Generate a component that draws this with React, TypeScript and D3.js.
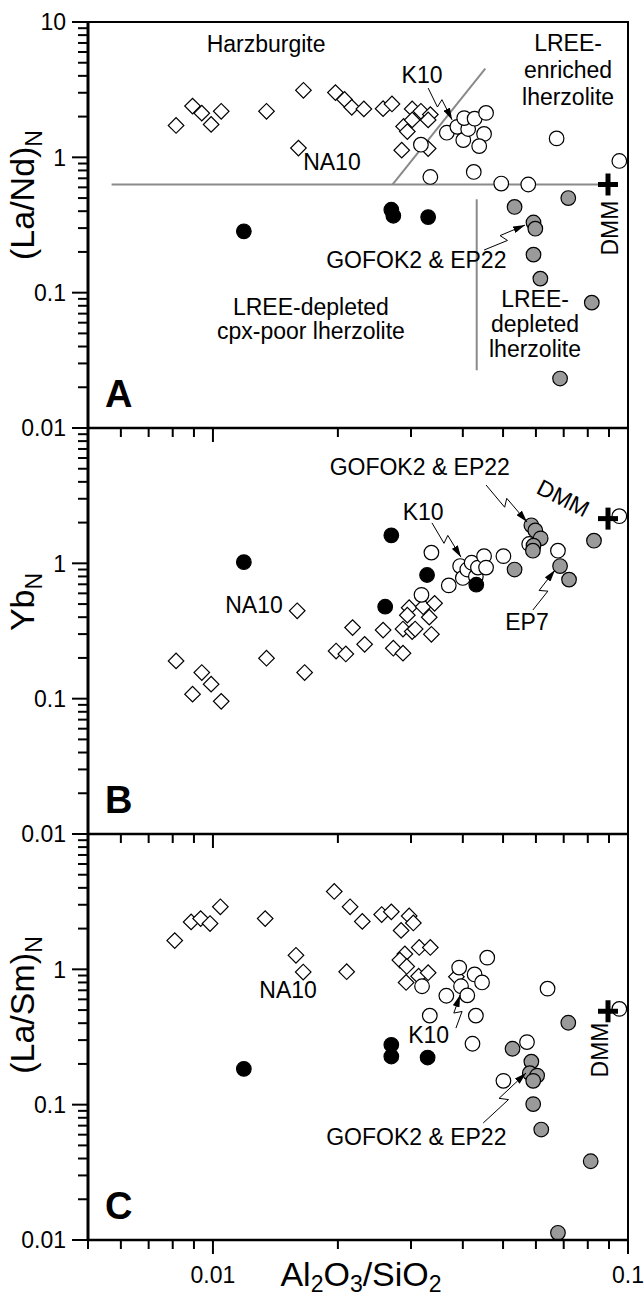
import React from 'react';
import * as d3 from 'd3';

type Pt = [number, number];

// ---- panel A: (La/Nd)N
const aDiamonds: Pt[] = [
  [0.00815, 1.72], [0.00893, 2.39], [0.0094, 2.12], [0.0099, 1.75], [0.01047, 2.19],
  [0.01346, 2.19], [0.01652, 3.13], [0.01607, 1.17], [0.01973, 3.01], [0.02075, 2.68],
  [0.0216, 2.34], [0.0231, 2.28], [0.0257, 2.29], [0.027, 2.48], [0.0302, 2.28],
  [0.0317, 2.19], [0.0288, 1.69], [0.0294, 1.55], [0.0302, 1.89], [0.0334, 2.07],
  [0.033, 1.89], [0.0285, 1.13], [0.033, 1.16],
];
const aOpen: Pt[] = [
  [0.0366, 1.52], [0.0388, 1.68], [0.0401, 1.34], [0.0412, 1.62], [0.0403, 1.95],
  [0.0427, 1.93], [0.0455, 2.13], [0.045, 1.49], [0.0438, 1.21], [0.0317, 1.24],
  [0.0334, 0.716], [0.0425, 0.78], [0.0495, 0.64], [0.0575, 0.63], [0.0673, 1.38],
  [0.0953, 0.94],
];
const aBlack: Pt[] = [[0.01187, 0.284], [0.0269, 0.41], [0.0272, 0.37], [0.033, 0.362]];
const aGray: Pt[] = [
  [0.0533, 0.43], [0.0718, 0.5], [0.0592, 0.33], [0.0598, 0.297], [0.0592, 0.191],
  [0.0615, 0.127], [0.0818, 0.0844], [0.0686, 0.0232],
];
// field boundaries in panel A
const aLines: Pt[][] = [
  [[0.0057, 0.63], [0.0895, 0.63]],
  [[0.0271, 0.63], [0.0453, 4.52]],
  [[0.0432, 0.49], [0.0432, 0.0267]],
];

// ---- panel B: YbN
const bDiamonds: Pt[] = [
  [0.00815, 0.19], [0.0094, 0.156], [0.0099, 0.128], [0.00893, 0.108], [0.01047, 0.0956],
  [0.01346, 0.199], [0.01663, 0.156], [0.0198, 0.225], [0.0209, 0.214], [0.0217, 0.335],
  [0.0232, 0.252], [0.0257, 0.321], [0.0272, 0.236], [0.0287, 0.217], [0.0287, 0.327],
  [0.0302, 0.313], [0.0307, 0.327], [0.0336, 0.299], [0.01596, 0.446], [0.0297, 0.47],
  [0.0294, 0.414], [0.0321, 0.478], [0.0342, 0.506], [0.0332, 0.4],
];
const bOpen: Pt[] = [
  [0.0336, 1.2], [0.0318, 0.585], [0.037, 0.687], [0.0394, 0.955], [0.04, 0.78],
  [0.041, 0.9], [0.042, 1.01], [0.043, 0.8], [0.0435, 0.93], [0.045, 1.13],
  [0.0455, 0.93], [0.0501, 1.13], [0.0578, 1.39], [0.0678, 1.24], [0.0953, 2.23],
];
const bBlack: Pt[] = [[0.01187, 1.02], [0.0269, 1.61], [0.0328, 0.82], [0.026, 0.478], [0.0431, 0.695]];
const bGray: Pt[] = [
  [0.0533, 0.9], [0.0585, 1.91], [0.0598, 1.75], [0.0616, 1.53], [0.0592, 1.35],
  [0.059, 1.24], [0.0686, 0.955], [0.0721, 0.758], [0.0828, 1.47],
];

// ---- panel C: (La/Sm)N
const cDiamonds: Pt[] = [
  [0.00809, 1.63], [0.00886, 2.24], [0.00934, 2.37], [0.00984, 2.18], [0.01042, 2.9],
  [0.01336, 2.37], [0.01585, 1.27], [0.0165, 0.955], [0.0196, 3.76], [0.021, 0.96],
  [0.0214, 2.9], [0.0229, 2.26], [0.0255, 2.54], [0.0269, 2.66], [0.0297, 2.48],
  [0.0304, 2.2], [0.0284, 1.94], [0.0314, 1.45], [0.0334, 1.45], [0.029, 1.3],
  [0.0282, 1.17], [0.0293, 1.05], [0.0313, 0.89], [0.033, 0.944], [0.0292, 0.8],
  [0.0386, 0.88],
];
const cOpen: Pt[] = [
  [0.0319, 0.75], [0.0333, 0.455], [0.0365, 0.638], [0.0392, 1.03], [0.0396, 0.75],
  [0.041, 0.642], [0.0427, 0.917], [0.0445, 0.8], [0.0458, 1.22], [0.043, 0.455],
  [0.0422, 0.282], [0.0571, 0.29], [0.064, 0.72], [0.0953, 0.51], [0.0501, 0.15],
];
const cBlack: Pt[] = [[0.01187, 0.184], [0.0269, 0.227], [0.0269, 0.277], [0.0329, 0.223]];
const cGray: Pt[] = [
  [0.0527, 0.259], [0.0718, 0.403], [0.0585, 0.208], [0.058, 0.171], [0.0604, 0.164],
  [0.0591, 0.15], [0.0591, 0.101], [0.0618, 0.0655], [0.0813, 0.0382], [0.0678, 0.0113],
];

const dmmA: Pt = [0.0895, 0.63];
const dmmB: Pt = [0.0895, 2.14];
const dmmC: Pt = [0.0895, 0.49];

const xTickLabels = ['0.01', '0.1'];
const yTickLabelsA = ['10', '1', '0.1', '0.01'];
const yTickLabelsBC = ['1', '0.1', '0.01'];

type Note = { t: string; x: number; y: number; rot?: number };
type Arrow = { from: Pt; to: Pt };

const aNotes: Note[] = [
  { t: 'Harzburgite', x: 0.01343, y: 6.0 },
  { t: 'K10', x: 0.0319, y: 3.54 },
  { t: 'LREE-', x: 0.0717, y: 6.11 },
  { t: 'enriched', x: 0.0717, y: 3.86 },
  { t: 'lherzolite', x: 0.0717, y: 2.44 },
  { t: 'NA10', x: 0.01935, y: 0.806 },
  { t: 'GOFOK2 & EP22', x: 0.0309, y: 0.152 },
  { t: 'LREE-depleted', x: 0.01722, y: 0.0684 },
  { t: 'cpx-poor lherzolite', x: 0.01722, y: 0.0455 },
  { t: 'LREE-', x: 0.0597, y: 0.0783 },
  { t: 'depleted', x: 0.0597, y: 0.0512 },
  { t: 'lherzolite', x: 0.0597, y: 0.0335 },
  { t: 'DMM', x: 0.0905, y: 0.3, rot: -90 },
];
const aArrows: Arrow[] = [
  { from: [0.033, 3.25], to: [0.0377, 1.89] },
  { from: [0.045, 0.2066], to: [0.0565, 0.316] },
];

const bNotes: Note[] = [
  { t: 'GOFOK2 & EP22', x: 0.0315, y: 4.5 },
  { t: 'DMM', x: 0.0698, y: 3.04, rot: 27 },
  { t: 'K10', x: 0.0321, y: 2.09 },
  { t: 'NA10', x: 0.01256, y: 0.43 },
  { t: 'EP7', x: 0.0571, y: 0.321 },
];
const bArrows: Arrow[] = [
  { from: [0.0455, 3.79], to: [0.0571, 2.02] },
  { from: [0.0337, 1.99], to: [0.0396, 1.11] },
  { from: [0.059, 0.452], to: [0.0667, 0.893] },
];

const cNotes: Note[] = [
  { t: 'NA10', x: 0.01517, y: 0.614 },
  { t: 'K10', x: 0.0331, y: 0.286 },
  { t: 'DMM', x: 0.0857, y: 0.2535, rot: -90 },
  { t: 'GOFOK2 & EP22', x: 0.0309, y: 0.0504 },
];
const cArrows: Arrow[] = [
  { from: [0.0385, 0.368], to: [0.0394, 0.645] },
  { from: [0.0448, 0.0733], to: [0.0568, 0.1714] },
];

const W = 644;
const H = 1300;
const L = 88;
const R = 628;
const PH = 406;
const FONT = '"Liberation Sans", Arial, Helvetica, sans-serif';

const x = d3.scaleLog().domain([0.005, 0.1]).range([L, R]);

const xTicks: number[] = [];
for (const e of [-3, -2]) for (let k = 1; k <= 9; k++) {
  const v = k * Math.pow(10, e);
  if (v >= 0.0049 && v <= 0.1001) xTicks.push(v);
}
xTicks.push(0.1);
const yTicks: number[] = [];
for (const e of [-2, -1, 0]) for (let k = 1; k <= 9; k++) yTicks.push(k * Math.pow(10, e));
yTicks.push(10);

const isMajor = (v: number) => Math.abs(Math.log10(v) - Math.round(Math.log10(v))) < 1e-6;

// straight leader with a small lightning kink halfway
function zigzag(sx: number, sy: number, ex: number, ey: number) {
  const dx = ex - sx, dy = ey - sy;
  const len = Math.hypot(dx, dy);
  const ux = dx / len, uy = dy / len;
  const nx = -uy, ny = ux;
  const p = d3.path();
  p.moveTo(sx, sy);
  p.lineTo(sx + ux * len * 0.52 + nx * 4, sy + uy * len * 0.52 + ny * 4);
  p.lineTo(sx + ux * len * 0.44 - nx * 4, sy + uy * len * 0.44 - ny * 4);
  p.lineTo(ex, ey);
  return p.toString();
}

type PanelProps = {
  top: number;
  letter: string;
  diamonds: Pt[];
  open: Pt[];
  black: Pt[];
  gray: Pt[];
  dmm: Pt;
  notes: Note[];
  arrows: Arrow[];
  lines?: Pt[][];
  yLabels: string[];
};

function Panel(p: PanelProps) {
  const y = d3.scaleLog().domain([0.01, 10]).range([p.top + PH, p.top]);
  const bottom = p.top + PH;
  const line = d3.line<Pt>().x(d => x(d[0])).y(d => y(d[1]));
  return (
    <g>
      {(p.lines || []).map((l, i) => (
        <path key={'l' + i} d={line(l) || ''} fill="none" stroke="#8a8a8a" strokeWidth={2} />
      ))}
      {p.diamonds.map((d, i) => (
        <rect key={'d' + i} x={-5.5} y={-5.5} width={11} height={11}
          transform={`translate(${x(d[0])},${y(d[1])}) rotate(45)`}
          fill="#fff" stroke="#000" strokeWidth={1.2} />
      ))}
      {p.open.map((d, i) => (
        <circle key={'o' + i} cx={x(d[0])} cy={y(d[1])} r={7.3} fill="#fff" stroke="#000" strokeWidth={1.2} />
      ))}
      {p.black.map((d, i) => (
        <circle key={'b' + i} cx={x(d[0])} cy={y(d[1])} r={7.3} fill="#000" stroke="#000" strokeWidth={1.2} />
      ))}
      {p.gray.map((d, i) => (
        <circle key={'g' + i} cx={x(d[0])} cy={y(d[1])} r={7.3} fill="#9a9a9a" stroke="#000" strokeWidth={1.2} />
      ))}
      <g transform={`translate(${x(p.dmm[0])},${y(p.dmm[1])})`}>
        <line x1={-10} x2={10} y1={0} y2={0} stroke="#000" strokeWidth={5} />
        <line x1={0} x2={0} y1={-11} y2={11} stroke="#000" strokeWidth={5} />
      </g>
      {p.arrows.map((a, i) => (
        <path key={'a' + i} d={zigzag(x(a.from[0]), y(a.from[1]), x(a.to[0]), y(a.to[1]))}
          fill="none" stroke="#000" strokeWidth={1} markerEnd="url(#head)" />
      ))}
      {p.notes.map((n, i) => (
        <text key={'n' + i} fontSize={23} textAnchor="middle"
          dominantBaseline={n.rot ? 'central' : undefined}
          transform={`translate(${x(n.x)},${y(n.y)})${n.rot ? ` rotate(${n.rot})` : ''}`}>{n.t}</text>
      ))}
      <text x={L + 17} y={bottom - 21} fontSize={38} fontWeight="bold">{p.letter}</text>
      {/* frame */}
      <rect x={L} y={p.top} width={R - L} height={PH} fill="none" stroke="#000" strokeWidth={2} />
      <line x1={L} x2={L} y1={p.top} y2={bottom} stroke="#000" strokeWidth={3} />
      <line x1={L} x2={R} y1={bottom} y2={bottom} stroke="#000" strokeWidth={2.5} />
      {yTicks.map((v, i) => (
        <line key={'yt' + i} x1={L - (isMajor(v) ? 16 : 10)} x2={L} y1={y(v)} y2={y(v)} stroke="#000" strokeWidth={2} />
      ))}
      {xTicks.map((v, i) => (
        <line key={'xt' + i} x1={x(v)} x2={x(v)} y1={bottom} y2={bottom + (isMajor(v) ? 14 : 9)} stroke="#000" strokeWidth={2} />
      ))}
      {p.yLabels.map((t, i) => (
        <text key={'yl' + i} x={L - 22} y={y(Number(t))} dy="0.36em" fontSize={23} textAnchor="end">{t}</text>
      ))}
    </g>
  );
}

export default function App() {
  const tops = [22, 22 + PH, 22 + 2 * PH];
  const bottom = tops[2] + PH;
  return (
    <svg width={W} height={H} style={{ display: 'block', position: 'absolute', left: 0, top: 0, background: '#fff' }}
      fontFamily={FONT}>
      <defs>
        <marker id="head" viewBox="0 0 12 7" refX={12} refY={3.5} markerWidth={12} markerHeight={7}
          markerUnits="userSpaceOnUse" orient="auto">
          <path d="M0,0 L12,3.5 L0,7 Z" fill="#000" />
        </marker>
      </defs>
      <rect width={W} height={H} fill="#fff" />
      <Panel top={tops[0]} letter="A" diamonds={aDiamonds} open={aOpen} black={aBlack} gray={aGray}
        dmm={dmmA} notes={aNotes} arrows={aArrows} lines={aLines} yLabels={yTickLabelsA} />
      <Panel top={tops[1]} letter="B" diamonds={bDiamonds} open={bOpen} black={bBlack} gray={bGray}
        dmm={dmmB} notes={bNotes} arrows={bArrows} yLabels={yTickLabelsBC} />
      <Panel top={tops[2]} letter="C" diamonds={cDiamonds} open={cOpen} black={cBlack} gray={cGray}
        dmm={dmmC} notes={cNotes} arrows={cArrows} yLabels={yTickLabelsBC} />

      {/* y-axis titles */}
      <text transform="translate(34,195) rotate(-90)" textAnchor="middle" fontSize={34}>
        (La/Nd)<tspan fontSize={23} dy={8}>N</tspan>
      </text>
      <text transform="translate(34,602) rotate(-90)" textAnchor="middle" fontSize={34}>
        Yb<tspan fontSize={23} dy={8}>N</tspan>
      </text>
      <text transform="translate(34,1005) rotate(-90)" textAnchor="middle" fontSize={34}>
        (La/Sm)<tspan fontSize={23} dy={8}>N</tspan>
      </text>

      {/* x axis labels */}
      {xTickLabels.map(t => (
        <text key={t} x={x(Number(t))} y={bottom + 43} fontSize={23} textAnchor="middle">{t}</text>
      ))}
      <text x={361} y={bottom + 46} fontSize={34} textAnchor="middle">
        Al<tspan fontSize={23} dy={6}>2</tspan><tspan dy={-6}>O</tspan><tspan fontSize={23} dy={6}>3</tspan>
        <tspan dy={-6}>/SiO</tspan><tspan fontSize={23} dy={6}>2</tspan>
      </text>
    </svg>
  );
}
